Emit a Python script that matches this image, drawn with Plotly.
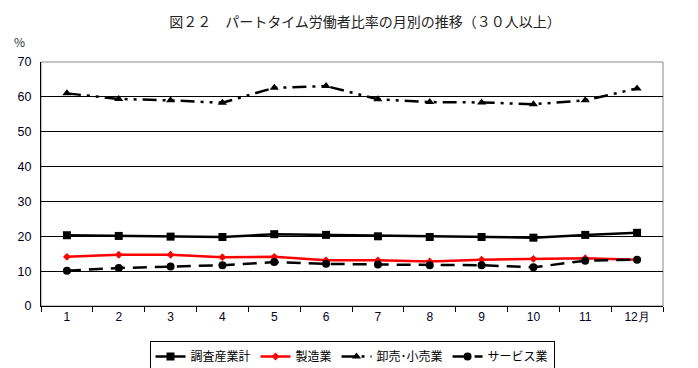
import plotly.graph_objects as go

months = ["1", "2", "3", "4", "5", "6", "7", "8", "9", "10", "11", "12月"]
total = [20.3, 20.1, 19.9, 19.8, 20.6, 20.4, 20.0, 19.8, 19.8, 19.6, 20.4, 21.0]
manufacturing = [14.1, 14.7, 14.7, 14.0, 14.1, 13.1, 13.1, 12.8, 13.3, 13.5, 13.7, 13.3]
wholesale = [61.0, 59.4, 59.0, 58.3, 62.6, 63.1, 59.3, 58.5, 58.4, 57.9, 59.0, 62.4]
services = [10.1, 10.9, 11.3, 11.7, 12.6, 12.1, 11.9, 11.7, 11.7, 11.1, 13.0, 13.3]

names = ["調査産業計", "製造業", "卸売･小売業", "サービス業"]

fig = go.Figure()
fig.add_trace(go.Scatter(x=months, y=total, name=names[0], mode="lines+markers",
                         line=dict(color="black", width=2.5),
                         marker=dict(symbol="square", size=8, color="black")))
fig.add_trace(go.Scatter(x=months, y=manufacturing, name=names[1], mode="lines+markers",
                         line=dict(color="#ff0000", width=2.5),
                         marker=dict(symbol="diamond", size=6, color="#ff0000")))
fig.add_trace(go.Scatter(x=months, y=wholesale, name=names[2], mode="lines+markers",
                         line=dict(color="black", width=2.5, dash="14px,6px,3px,6px,3px,6px"),
                         marker=dict(symbol="triangle-up", size=8, color="black")))
fig.add_trace(go.Scatter(x=months, y=services, name=names[3], mode="lines+markers",
                         line=dict(color="black", width=2.5, dash="14px,8px"),
                         marker=dict(symbol="circle", size=8, color="black")))

fig.add_shape(type="rect", xref="paper", yref="paper", x0=0, x1=1, y0=0, y1=1,
              line=dict(color="#888888", width=1), layer="below")

W, H = 690, 360
fig.update_layout(
    width=W, height=H,
    margin=dict(l=33, r=35, t=54, b=62, autoexpand=False),
    paper_bgcolor="white", plot_bgcolor="white",
    font=dict(family="Liberation Sans, Arial, sans-serif", color="#000022", size=12),
    title=dict(text="図２２　パートタイム労働者比率の月別の推移（３０人以上）",
               x=(365 - 8) / W, xanchor="center", y=1 - 14 / H, yanchor="middle",
               font=dict(family="Noto Sans CJK JP", size=14, color="#222222")),
    xaxis=dict(type="category", showgrid=False, ticks="outside", ticklen=5,
               tickson="boundaries", tickcolor="black", showline=True,
               linecolor="black", linewidth=1, range=[-0.5, 11.5], automargin=False,
               tickfont=dict(size=12, color="#000022")),
    yaxis=dict(range=[0, 70], dtick=10, showgrid=True, gridcolor="black", gridwidth=1,
               showline=True, linecolor="black", linewidth=1, ticks="", zeroline=False,
               automargin=False, ticklabelstandoff=6,
               tickfont=dict(size=12.5, color="#000022")),
    legend=dict(orientation="h", x=0.5, xanchor="center",
                yref="container", y=1 - 333 / H, yanchor="top",
                bordercolor="black", borderwidth=1, bgcolor="white",
                font=dict(family="Noto Sans CJK JP", size=12, color="black"),
                itemwidth=30, tracegroupgap=0),
    showlegend=True,
)
fig.add_annotation(text="%", xref="paper", yref="paper", x=-0.035, y=1.082,
                   xanchor="center", yanchor="middle",
                   showarrow=False, font=dict(size=12, color="#333333",
                                              family="Noto Sans CJK JP"))

fig.write_html("out.html")
